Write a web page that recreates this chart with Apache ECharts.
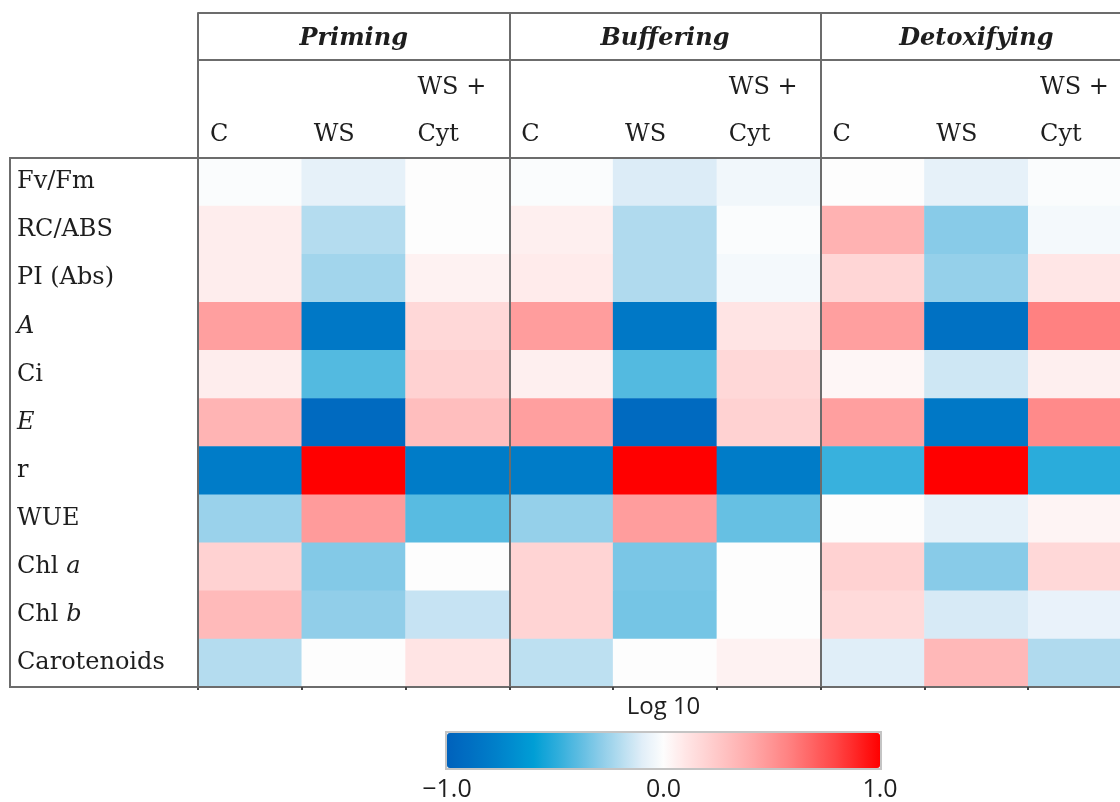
<!DOCTYPE html>
<html><head><meta charset="utf-8">
<script src="https://cdn.jsdelivr.net/npm/echarts@6/dist/echarts.min.js"></script>
<style>html,body{margin:0;padding:0;background:#fff}#c{width:1120px;height:802px}</style>
</head><body><div id="c"></div><script>
// ---- data ----
const groups = ['Priming', 'Buffering', 'Detoxifying'];
const treatments = ['C', 'WS', 'WS +\nCyt'];
const rowLabels = ['Fv/Fm', 'RC/ABS', 'PI (Abs)', 'A', 'Ci', 'E', 'r', 'WUE', 'Chl a', 'Chl b', 'Carotenoids'];
// each row: Priming C, WS, WS+Cyt | Buffering C, WS, WS+Cyt | Detoxifying C, WS, WS+Cyt  (log10 ratios)
const fvFm   = [-0.01, -0.08, 0.00, -0.01, -0.11, -0.04, 0.00, -0.08, -0.01];
const rcAbs  = [0.07, -0.20, 0.00, 0.06, -0.21, -0.01, 0.36, -0.30, -0.03];
const piAbs  = [0.07, -0.24, 0.05, 0.08, -0.21, -0.03, 0.18, -0.27, 0.10];
const aNet   = [0.45, -0.83, 0.17, 0.46, -0.83, 0.11, 0.45, -0.88, 0.58];
const ci     = [0.07, -0.41, 0.20, 0.06, -0.41, 0.17, 0.03, -0.14, 0.06];
const eTrans = [0.35, -0.93, 0.30, 0.45, -0.93, 0.20, 0.45, -0.83, 0.54];
const rVal   = [-0.80, 1.00, -0.80, -0.80, 1.00, -0.80, -0.47, 1.00, -0.50];
const wue    = [-0.26, 0.47, -0.40, -0.27, 0.46, -0.37, 0.00, -0.08, 0.04];
const chlA   = [0.20, -0.31, 0.00, 0.19, -0.33, 0.00, 0.20, -0.30, 0.17];
const chlB   = [0.32, -0.28, -0.16, 0.19, -0.34, 0.00, 0.16, -0.12, -0.07];
const carot  = [-0.20, 0.00, 0.11, -0.18, 0.00, 0.05, -0.10, 0.33, -0.21];
const scaleTicks = [-1, 0, 1];
const scaleTitle = 'Log 10';

const rowValues = [fvFm, rcAbs, piAbs, aNet, ci, eTrans, rVal, wue, chlA, chlB, carot];
const columns = [];
groups.forEach(g => treatments.forEach(t => columns.push(g + '|' + t)));
const cells = [];
rowValues.forEach((vals, r) => vals.forEach((v, c) => cells.push([c, r, v])));

// ---- style ----
const LINE = '#6c6c6c';
const TXT = '#1e1e1e';
const SERIF = '"DejaVu Serif", "Liberation Serif", serif';
const SANS = '"Open Sans", "Liberation Sans", sans-serif';
const RAMP = ['#0062bc','#006ec2','#007cc8','#008ccf','#009ed5','#2aacdb','#58bbe1','#88cbe8','#b4dcef','#e0eef8',
  '#fdfdfd','#ffe6e6','#ffd2d2','#ffbebe','#ffaaaa','#ff9494','#ff7c7c','#ff6060','#ff4444','#ff2222','#ff0000'];
const G = {left: 198, top: 158, width: 934, height: 529};
const italicRow = {'A': '{i|A}', 'E': '{i|E}', 'Chl a': 'Chl {i|a}', 'Chl b': 'Chl {i|b}'};

const chart = echarts.init(document.getElementById('c'), null, {renderer: 'canvas'});
chart.setOption({
  animation: false,
  backgroundColor: '#fff',
  grid: [
    {left: G.left, top: G.top, width: G.width, height: G.height, outerBoundsMode: 'none', containLabel: false},
    {left: 447, top: 733, width: 433, height: 35, outerBoundsMode: 'none', containLabel: false}
  ],
  xAxis: [
    { // sub-column headers
      type: 'category', data: columns, position: 'top', gridIndex: 0, z: 5,
      axisLine: {show: true, lineStyle: {color: LINE, width: 2}},
      axisTick: {show: true, length: 98, interval: (i) => i % 3 === 0, lineStyle: {color: LINE, width: 2}},
      axisLabel: {
        margin: 0, interval: 0, hideOverlap: false,
        formatter: (v) => v.split('|')[1].split('\n').map(s => '{t|' + s + '}').join('\n'),
        rich: {t: {width: 80, align: 'left', fontSize: 24, lineHeight: 47, fontFamily: SERIF, color: TXT}}
      },
      splitLine: {show: false}
    },
    { // group headers
      type: 'category', data: groups, position: 'top', offset: 98, gridIndex: 0, z: 5,
      axisLine: {show: true, lineStyle: {color: LINE, width: 2}},
      axisTick: {show: true, length: 47, interval: 0, lineStyle: {color: LINE, width: 2}},
      axisLabel: {margin: 6, interval: 0, fontSize: 24, fontWeight: 'bold', fontStyle: 'italic', fontFamily: SERIF, color: TXT, lineHeight: 30},
      splitLine: {show: true, interval: 0, lineStyle: {color: LINE, width: 2}}
    },
    { // top border
      type: 'category', data: groups, position: 'top', offset: 145, gridIndex: 0,
      axisLine: {show: true, lineStyle: {color: LINE, width: 2}},
      axisTick: {show: false}, axisLabel: {show: false}, splitLine: {show: false}
    },
    { // bottom border with small ticks
      type: 'category', data: columns, position: 'bottom', gridIndex: 0, z: 5,
      axisLine: {show: true, lineStyle: {color: LINE, width: 2}},
      axisTick: {show: true, length: 3, interval: 0, lineStyle: {color: '#444', width: 2}},
      axisLabel: {show: false, interval: 0}, splitLine: {show: false}
    },
    { // colour scale labels
      type: 'value', gridIndex: 1, min: scaleTicks[0], max: scaleTicks[2], interval: 1, position: 'bottom',
      axisLine: {show: false}, axisTick: {show: false}, splitLine: {show: false},
      axisLabel: {margin: 9, fontSize: 25, fontFamily: SANS, color: TXT,
        formatter: (v) => (v < 0 ? '\u2212' : '') + Math.abs(v).toFixed(1), showMinLabel: true, showMaxLabel: true}
    },
    { // colour scale title
      type: 'value', gridIndex: 1, min: scaleTicks[0], max: scaleTicks[2], position: 'top',
      axisLine: {show: false}, axisTick: {show: false}, splitLine: {show: false}, axisLabel: {show: false},
      name: scaleTitle, nameLocation: 'middle', nameGap: 14,
      nameTextStyle: {fontSize: 24, fontFamily: SANS, color: TXT}
    }
  ],
  yAxis: [
    {
      type: 'category', data: rowLabels, inverse: true, gridIndex: 0, z: 5,
      axisLine: {show: true, lineStyle: {color: LINE, width: 2}},
      axisTick: {show: false}, splitLine: {show: false},
      axisLabel: {
        align: 'left', margin: 181, interval: 0,
        formatter: (v) => italicRow[v] || v,
        fontSize: 24, fontFamily: SERIF, color: TXT,
        rich: {i: {fontStyle: 'italic', fontSize: 24, fontFamily: SERIF, color: TXT}}
      }
    },
    {type: 'value', gridIndex: 1, show: false, min: 0, max: 1}
  ],
  visualMap: {
    type: 'continuous', min: scaleTicks[0], max: scaleTicks[2], orient: 'horizontal', seriesIndex: 0,
    left: 447, top: 733, itemWidth: 35, itemHeight: 433, padding: 0,
    calculable: false, realtime: false, hoverLink: false,
    inRange: {color: RAMP},
    textStyle: {color: 'transparent'}
  },
  graphic: [{
    type: 'rect', z: 10,
    shape: {x: 10, y: G.top, width: G.left - 10, height: G.height},
    style: {fill: 'none', stroke: LINE, lineWidth: 2}
  }, {
    type: 'rect', z: 10,
    shape: {x: 446, y: 732, width: 435, height: 37},
    style: {fill: 'none', stroke: '#c4c4c4', lineWidth: 2}
  }],
  series: [{
    type: 'heatmap', xAxisIndex: 0, yAxisIndex: 0, data: cells,
    itemStyle: {borderWidth: 0},
    emphasis: {disabled: true}, label: {show: false}
  }]
});
</script></body></html>
